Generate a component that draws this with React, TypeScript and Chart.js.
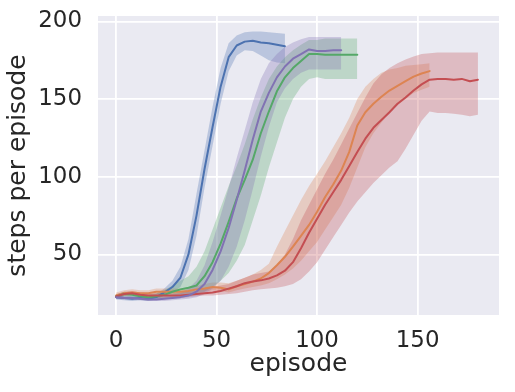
import React, { useEffect, useRef } from 'react';
import { Chart, registerables } from 'chart.js';

Chart.register(...registerables);

// episodes are sampled every EPISODE_STEP episodes, starting at 0
const EPISODE_STEP = 4;

const blueMean = [22.5, 22, 21.5, 22, 21.5, 22.5, 25.5, 29, 35, 50, 75, 105, 132, 158, 177, 184.5, 187, 187.5, 186.5, 186, 185, 184];
const blueLo = [21, 20.5, 20, 20.5, 20, 21, 23.5, 25.5, 29, 40, 62, 93, 120, 147, 168, 178, 181.5, 181, 178, 175, 173.5, 173];
const blueHi = [24, 23.5, 23, 23.5, 23, 24.5, 28, 33, 42, 60, 89, 117, 145, 170, 186, 191, 193, 193.5, 193.5, 193, 192.5, 192];

const orangeMean = [23.5, 25, 25.5, 25, 25, 26, 26, 26, 26, 26.5, 27.5, 28, 29, 28.5, 27.5, 29.5, 31, 32.5, 34.5, 38, 43, 48.5, 55, 62, 69, 77.5, 87, 95, 104, 116, 133, 141.5, 147, 151.5, 155.5, 158.5, 161.5, 164.5, 166.5, 168];
const orangeLo = [22, 23.5, 24, 23.5, 23.5, 24.5, 24.5, 24.5, 24.5, 25, 26, 26, 27, 26.5, 25.5, 27, 28, 29, 30, 31.5, 34, 37, 41, 46, 52, 58, 66, 74, 82, 93, 106, 119, 128, 135, 141, 146, 150, 154, 156, 158];
const orangeHi = [25.5, 27, 27.5, 27, 27, 28, 28, 28, 28, 28.5, 29.5, 31, 32, 32, 31.5, 33, 35, 37, 40, 44, 55, 65, 75, 85, 94, 102, 110, 119, 128, 138, 150, 158, 163, 167, 169, 170, 171.5, 172, 172.5, 173];

const greenMean = [23, 24.5, 24, 23, 22.5, 23, 24, 26, 27.5, 28.5, 30, 36, 45, 57, 71, 86, 98, 111, 128, 142, 155, 164, 170, 174.5, 179, 179, 178.5, 178.5, 178.5, 178.5, 178.5];
const greenLo = [22, 23, 22.5, 21.5, 21, 21, 21.5, 22, 22.5, 23, 24, 26, 29, 33, 38, 46, 56, 72, 88, 106, 122, 138, 150, 158, 163, 164, 163, 163, 163, 163, 163];
const greenHi = [24, 26, 25.5, 24.5, 24, 25, 27, 30, 33, 36, 42, 52, 66, 80, 94, 107, 121, 137, 151, 163, 171, 177, 181.5, 185, 188, 188, 189, 189, 189, 189, 189];

const redMean = [23, 24.5, 25, 24, 23.5, 23.5, 23.5, 23.5, 23.5, 24, 24.5, 25, 25.5, 26.5, 28, 29.5, 31.5, 32.5, 33.3, 34.5, 36.5, 39.5, 45, 54, 64, 73, 82, 90, 98, 107, 116, 124.5, 131.5, 136.5, 141.5, 147, 151, 155.5, 159.5, 162.5, 163, 163, 162.5, 163, 161.5, 162.5];
const redLo = [21.5, 23, 23.5, 22.5, 22, 22, 22, 22, 22, 22.5, 23, 23.5, 23.5, 24, 24.5, 25, 26, 27, 27.5, 28, 28.5, 29.5, 31, 34, 39, 45, 53, 61, 69, 77, 84, 90, 96, 101, 106, 110, 118, 127, 136, 142, 141, 141, 140.5, 140, 139, 140];
const redHi = [24.5, 26, 26.5, 25.5, 25, 25, 25, 25, 25.5, 26, 26.5, 28, 29, 30, 31, 33, 35, 37, 38, 39, 43, 50, 60, 72, 82, 92, 102, 111, 121, 131, 141, 151, 160, 166, 170, 173, 175.5, 177.5, 179, 179.5, 180, 180, 180, 180, 180, 180];

const purpleMean = [22.5, 22, 22, 21.5, 21, 21, 21.5, 22, 22.5, 23.5, 26, 31, 40, 52, 67, 85, 104, 124, 142, 154, 164, 171, 176, 179, 182, 181, 181, 181.5, 181.5];
const purpleLo = [21.5, 21, 21, 20.5, 20, 20, 20, 20.5, 21, 21.5, 22.5, 24.5, 28, 33, 42, 55, 72, 92, 113, 132, 148, 157, 163, 167, 169, 169, 169, 169, 169];
const purpleHi = [23.5, 23, 23, 22.5, 22, 22.5, 23, 24, 25, 28, 33, 43, 58, 75, 93, 112, 130, 148, 163, 173, 179, 183.5, 186.5, 188.5, 190, 190, 190, 190, 190];

const xTicks = [0, 50, 100, 150];
const yTicks = [50, 100, 150, 200];
const xLabel = 'episode';
const yLabel = 'steps per episode';

const SERIES = [
  { color: '#4C72B0', rgb: [76, 114, 176], mean: blueMean, lo: blueLo, hi: blueHi },
  { color: '#DD8452', rgb: [221, 132, 82], mean: orangeMean, lo: orangeLo, hi: orangeHi },
  { color: '#55A868', rgb: [85, 168, 104], mean: greenMean, lo: greenLo, hi: greenHi },
  { color: '#C44E52', rgb: [196, 78, 82], mean: redMean, lo: redLo, hi: redHi },
  { color: '#8172B3', rgb: [129, 114, 179], mean: purpleMean, lo: purpleLo, hi: purpleHi },
];

const BAND_ALPHA = 0.3;
const TEXT = '#262626';
const FONT = 'DejaVu Sans';

function pts(arr: number[]) {
  return arr.map((y, i) => ({ x: i * EPISODE_STEP, y }));
}

const bgPlugin = {
  id: 'plotBg',
  beforeDraw(chart: any) {
    const { ctx, chartArea } = chart;
    if (!chartArea) return;
    ctx.save();
    ctx.fillStyle = '#EAEAF2';
    ctx.fillRect(chartArea.left, chartArea.top, chartArea.right - chartArea.left, chartArea.bottom - chartArea.top);
    ctx.restore();
  },
};

export default function App() {
  const ref = useRef<HTMLCanvasElement>(null);

  useEffect(() => {
    if (!ref.current) return;
    const n = SERIES.length;
    const datasets: any[] = [];
    SERIES.forEach((s, k) => {
      const [r, g, b] = s.rgb;
      datasets.push({
        data: pts(s.hi),
        fill: '+1',
        backgroundColor: `rgba(${r},${g},${b},${BAND_ALPHA})`,
        borderColor: 'rgba(0,0,0,0)',
        borderWidth: 1,
        pointRadius: 0,
        order: 20 + (n - k),
      });
      datasets.push({
        data: pts(s.lo),
        fill: false,
        borderColor: 'rgba(0,0,0,0)',
        borderWidth: 1,
        pointRadius: 0,
        order: 20 + (n - k),
      });
      datasets.push({
        data: pts(s.mean),
        fill: false,
        borderColor: s.color,
        borderWidth: 2,
        pointRadius: 0,
        order: n - k,
      });
    });

    const chart = new Chart(ref.current, {
      type: 'line',
      data: { datasets },
      plugins: [bgPlugin],
      options: {
        animation: false,
        responsive: true,
        maintainAspectRatio: false,
        layout: { padding: { top: 16, right: 16, left: 0, bottom: 0 } },
        plugins: { legend: { display: false }, tooltip: { enabled: false } },
        elements: { line: { tension: 0, borderJoinStyle: 'round', borderCapStyle: 'round' } },
        scales: {
          x: {
            type: 'linear',
            min: -9,
            max: 190.5,
            afterBuildTicks: (s: any) => {
              s.ticks = xTicks.map((v) => ({ value: v }));
            },
            afterFit: (s: any) => {
              s.height = 77;
              s.paddingLeft = 0;
              s.paddingRight = 0;
            },
            ticks: {
              padding: 12,
              color: TEXT,
              font: { family: FONT, size: 22.9 },
              maxRotation: 0,
              autoSkip: false,
            },
            grid: { color: '#FFFFFF', lineWidth: 1.8, drawTicks: false },
            border: { display: false },
            title: {
              display: true,
              text: xLabel,
              color: TEXT,
              font: { family: FONT, size: 25 },
              padding: { top: 0, bottom: 13 },
            },
          },
          y: {
            type: 'linear',
            min: 11,
            max: 203.5,
            afterBuildTicks: (s: any) => {
              s.ticks = yTicks.map((v) => ({ value: v }));
            },
            afterFit: (s: any) => {
              s.width = 98;
              s.paddingTop = 0;
              s.paddingBottom = 0;
            },
            ticks: {
              padding: 16,
              color: TEXT,
              font: { family: FONT, size: 22.9 },
              autoSkip: false,
            },
            grid: { color: '#FFFFFF', lineWidth: 1.8, drawTicks: false },
            border: { display: false },
            title: {
              display: true,
              text: yLabel,
              color: TEXT,
              font: { family: FONT, size: 25 },
              padding: { top: 3, bottom: 0 },
            },
          },
        },
      } as any,
    });
    return () => chart.destroy();
  }, []);

  return (
    <div style={{ position: 'absolute', left: 0, top: 0, width: 515, height: 392, background: '#fff' }}>
      <canvas ref={ref} />
    </div>
  );
}
